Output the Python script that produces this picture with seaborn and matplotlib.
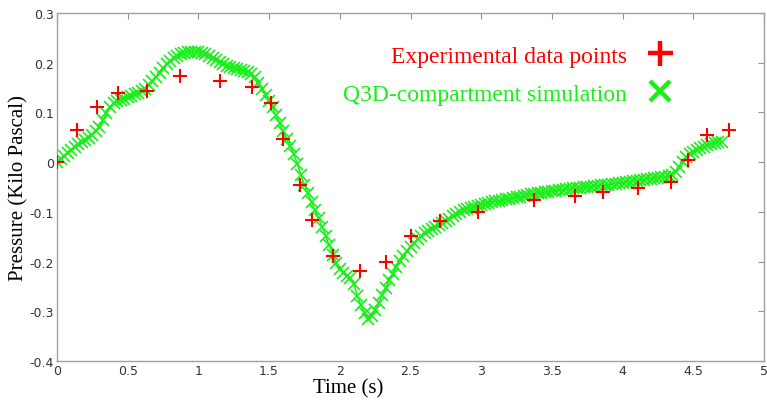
import numpy as np
import pandas as pd
import matplotlib
matplotlib.use("Agg")
import matplotlib.pyplot as plt
from matplotlib.lines import Line2D
import seaborn as sns

# ---- data ----
exp_time = [0.00, 0.14, 0.28, 0.43, 0.64, 0.87, 1.15, 1.38, 1.51, 1.60, 1.72, 1.80, 1.95,
            2.14, 2.33, 2.50, 2.71, 2.98, 3.37, 3.66, 3.86, 4.11, 4.34, 4.46, 4.60, 4.75]
exp_pressure = [0.000, 0.065, 0.111, 0.139, 0.143, 0.173, 0.163, 0.151, 0.119, 0.047, -0.046,
                -0.116, -0.189, -0.219, -0.201, -0.149, -0.119, -0.100, -0.077, -0.068, -0.061,
                -0.052, -0.040, 0.005, 0.055, 0.064]

sim_time = [
    0.000, 0.025, 0.050, 0.075, 0.100, 0.125, 0.150, 0.175, 0.200, 0.225,
    0.250, 0.275, 0.300, 0.325, 0.350, 0.375, 0.400, 0.425, 0.450, 0.475,
    0.500, 0.525, 0.550, 0.575, 0.600, 0.625, 0.650, 0.675, 0.700, 0.725,
    0.750, 0.775, 0.800, 0.825, 0.850, 0.875, 0.900, 0.925, 0.950, 0.975,
    1.000, 1.025, 1.050, 1.075, 1.100, 1.125, 1.150, 1.175, 1.200, 1.225,
    1.250, 1.275, 1.300, 1.325, 1.350, 1.375, 1.400, 1.425, 1.450, 1.475,
    1.500, 1.525, 1.550, 1.575, 1.600, 1.625, 1.650, 1.675, 1.700, 1.725,
    1.750, 1.775, 1.800, 1.825, 1.850, 1.875, 1.900, 1.925, 1.950, 1.975,
    2.000, 2.025, 2.050, 2.075, 2.100, 2.125, 2.150, 2.175, 2.200, 2.225,
    2.250, 2.275, 2.300, 2.325, 2.350, 2.375, 2.400, 2.425, 2.450, 2.475,
    2.500, 2.525, 2.550, 2.575, 2.600, 2.625, 2.650, 2.675, 2.700, 2.725,
    2.750, 2.775, 2.800, 2.825, 2.850, 2.875, 2.900, 2.925, 2.950, 2.975,
    3.000, 3.025, 3.050, 3.075, 3.100, 3.125, 3.150, 3.175, 3.200, 3.225,
    3.250, 3.275, 3.300, 3.325, 3.350, 3.375, 3.400, 3.425, 3.450, 3.475,
    3.500, 3.525, 3.550, 3.575, 3.600, 3.625, 3.650, 3.675, 3.700, 3.725,
    3.750, 3.775, 3.800, 3.825, 3.850, 3.875, 3.900, 3.925, 3.950, 3.975,
    4.000, 4.025, 4.050, 4.075, 4.100, 4.125, 4.150, 4.175, 4.200, 4.225,
    4.250, 4.275, 4.300, 4.325, 4.350, 4.375, 4.400, 4.425, 4.450, 4.475,
    4.500, 4.525, 4.550, 4.575, 4.600, 4.625, 4.650, 4.675, 4.700]
sim_pressure = [
    0.000, 0.006, 0.012, 0.018, 0.024, 0.031, 0.036, 0.040, 0.044, 0.048,
    0.055, 0.062, 0.071, 0.084, 0.098, 0.110, 0.118, 0.122, 0.125, 0.128,
    0.131, 0.134, 0.137, 0.140, 0.143, 0.148, 0.155, 0.163, 0.171, 0.180,
    0.189, 0.197, 0.204, 0.209, 0.213, 0.217, 0.220, 0.221, 0.222, 0.222,
    0.221, 0.220, 0.218, 0.214, 0.210, 0.206, 0.201, 0.197, 0.194, 0.191,
    0.189, 0.187, 0.185, 0.183, 0.181, 0.178, 0.172, 0.160, 0.147, 0.135,
    0.123, 0.110, 0.094, 0.078, 0.062, 0.046, 0.032, 0.016, -0.004, -0.026,
    -0.046, -0.063, -0.081, -0.097, -0.113, -0.130, -0.148, -0.167, -0.186, -0.202,
    -0.214, -0.223, -0.229, -0.233, -0.245, -0.270, -0.287, -0.303, -0.316, -0.310,
    -0.298, -0.283, -0.268, -0.253, -0.238, -0.224, -0.211, -0.199, -0.188, -0.178,
    -0.170, -0.162, -0.155, -0.149, -0.143, -0.138, -0.134, -0.130, -0.126, -0.122,
    -0.118, -0.114, -0.109, -0.105, -0.101, -0.097, -0.094, -0.092, -0.090, -0.088,
    -0.086, -0.084, -0.082, -0.080, -0.079, -0.078, -0.077, -0.075, -0.074, -0.073,
    -0.071, -0.070, -0.068, -0.067, -0.065, -0.064, -0.063, -0.062, -0.061, -0.060,
    -0.059, -0.058, -0.057, -0.056, -0.055, -0.054, -0.053, -0.053, -0.052, -0.051,
    -0.050, -0.049, -0.048, -0.047, -0.046, -0.046, -0.045, -0.044, -0.043, -0.042,
    -0.041, -0.040, -0.039, -0.038, -0.037, -0.036, -0.035, -0.034, -0.033, -0.032,
    -0.031, -0.030, -0.029, -0.028, -0.026, -0.020, -0.010, 0.000, 0.010, 0.017,
    0.021, 0.025, 0.028, 0.031, 0.034, 0.036, 0.038, 0.040, 0.041]

x_ticks = [0, 0.5, 1, 1.5, 2, 2.5, 3, 3.5, 4, 4.5, 5]
x_tick_labels = ["0", "0.5", "1", "1.5", "2", "2.5", "3", "3.5", "4", "4.5", "5"]
y_ticks = [-0.4, -0.3, -0.2, -0.1, 0, 0.1, 0.2, 0.3]
y_tick_labels = ["-0.4", "-0.3", "-0.2", "-0.1", "0", "0.1", "0.2", "0.3"]

exp_label = "Experimental data points"
sim_label = "Q3D-compartment simulation"
x_label = "Time (s)"
y_label = "Pressure (Kilo Pascal)"

RED = "#ff0000"
GREEN = "#19ee19"

# ---- figure ----
sns.set_style("white")
plt.rcParams["font.family"] = ["DejaVu Sans"]

fig = plt.figure(figsize=(7.67, 4.10), dpi=100)
ax = fig.add_axes([57 / 767, 1 - 362 / 410, (764 - 57) / 767, (362 - 14) / 410])

sim_df = pd.DataFrame({"t": sim_time, "p": sim_pressure})
exp_df = pd.DataFrame({"t": exp_time, "p": exp_pressure})

sns.lineplot(data=sim_df, x="t", y="p", ax=ax, color=GREEN, linewidth=1.1,
             marker="x", markersize=8, markeredgewidth=1.2, markeredgecolor=GREEN,
             sort=False, estimator=None, zorder=2)
sns.scatterplot(data=exp_df, x="t", y="p", ax=ax, color=RED, marker="+",
                s=110, linewidth=1.5, zorder=3)

ax.set_xlim(0, 5)
ax.set_ylim(-0.4, 0.3)
ax.set_xticks(x_ticks)
ax.set_xticklabels(x_tick_labels)
ax.set_yticks(y_ticks)
ax.set_yticklabels(y_tick_labels)

ax.tick_params(axis="both", direction="in", length=4, width=0.8, color="#909090",
               labelsize=9, labelcolor="#333333", top=True, right=True, pad=2)
for sp in ax.spines.values():
    sp.set_color("#a0a0a0")
    sp.set_linewidth(1.0)

serif = ["Liberation Serif", "DejaVu Serif"]
ax.set_xlabel(x_label, family=serif, fontsize=15, color="black")
ax.set_ylabel(y_label, family=serif, fontsize=15, color="black")
ax.xaxis.set_label_coords(0.412, -0.05)
ax.yaxis.set_label_coords(-0.041, 0.5)

handles = [
    Line2D([], [], linestyle="none", marker="+", markersize=18, markeredgewidth=3.2, color=RED),
    Line2D([], [], linestyle="none", marker="x", markersize=15, markeredgewidth=3.2, color=GREEN),
]
leg = ax.legend(handles, [exp_label, sim_label], loc="upper right",
                bbox_to_anchor=(0.903, 0.969), frameon=False, markerfirst=False,
                prop={"family": serif, "size": 17}, labelcolor=[RED, GREEN],
                handletextpad=0.8, labelspacing=0.7, handlelength=1.2)

fig.savefig("out.png", dpi=100, facecolor="white")
